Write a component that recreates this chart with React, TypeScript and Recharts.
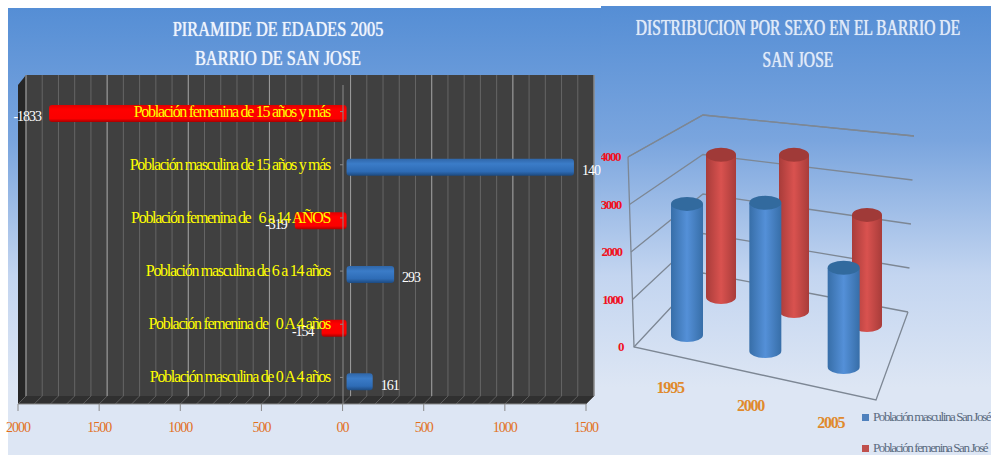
import React from 'react';
import {
  BarChart,
  Bar,
  XAxis,
  YAxis,
  CartesianGrid,
  LabelList,
  Cell,
  Legend
} from 'recharts';

// piramide de edades 2005
const ageGroups = [
  'Población femenina de 15 años y más',
  'Población masculina de 15 años y más',
  'Población femenina de   6 a 14 AÑOS',
  'Población masculina de 6 a 14 años',
  'Población femenina de   0 A 4 años',
  'Población masculina de 0 A 4 años'
];
const ageValues = [-1833, 1401, -319, 293, -154, 161];
const axisTicks = [-2000, -1500, -1000, -500, 0, 500, 1000, 1500];
const minorTicks = [
  -2000, -1900, -1800, -1700, -1600, -1500, -1400, -1300, -1200, -1100, -1000, -900, -800, -700, -600, -500, -400, -300,
  -200, -100, 0, 100, 200, 300, 400, 500, 600, 700, 800, 900, 1000, 1100, 1200, 1300, 1400, 1500
];

// distribucion por sexo
const years = ['1995', '2000', '2005'];
const maleValues = [2450, 2770, 1855];
const femaleValues = [2980, 3270, 2306];
const levelTicks = [0, 1000, 2000, 3000, 4000];

const pyramidData = ageGroups.map((group, i) => ({ group, value: ageValues[i] }));
const sexData = years.map((year, i) => ({ year, male: maleValues[i], female: femaleValues[i] }));

const W = 991;
const H = 455;
const SERIF = '"Liberation Serif", serif';
const layer: React.CSSProperties = { position: 'absolute', left: 0, top: 0 };
const pyramidDomain: [number, number] = [-2000, 1500];
const panelFill = 'linear-gradient(#558ed5 0%, #7aa5de 30%, #c3d5f0 60%, #dde6f4 85%)';

const titleStyle: React.CSSProperties = {
  position: 'absolute',
  fontFamily: SERIF,
  color: '#eef4fc',
  fontSize: 21,
  whiteSpace: 'nowrap',
  transform: 'translateX(-50%) scaleX(0.78)',
  textShadow: '0 0 1px #fff'
};

const legendText = (v: string) => (
  <span style={{ color: '#5a6a80', fontFamily: SERIF, fontSize: 13, letterSpacing: -1.4, whiteSpace: 'nowrap' }}>{v}</span>
);

const FloorTick = (props: any) => (
  <line x1={props.x} y1={props.y} x2={props.x - 8} y2={props.y + 8} stroke="#5c5c5c" />
);

const GroupTick = (props: any) => (
  <text
    x={props.x}
    y={props.y + 5}
    textAnchor="end"
    fill="#ffff00"
    fontFamily={SERIF}
    fontSize={16}
    letterSpacing={-1.3}
    style={{ whiteSpace: 'pre' }}
  >
    {props.payload.value}
  </text>
);

// rejilla 3D: cada nivel del eje sale por la pared izquierda y sigue por el fondo
const LevelTick = (props: any) => {
  const t = props.payload.value / 4000;
  const y = props.y;
  const leftX = 634 - 6 * t;
  const backY = 273 - 158 * t;
  const rightX = 908 + 6 * t;
  const rightY = 312 - 176 * t;
  return (
    <g>
      <polyline
        points={`${leftX},${y} 703,${backY} ${rightX},${rightY}`}
        fill="none"
        stroke="#7d8794"
        strokeWidth={1.3}
      />
      <text
        x={623 - 3 * t}
        y={y + 4}
        textAnchor="end"
        fill="#f01020"
        fontFamily={SERIF}
        fontWeight="bold"
        fontSize={13}
        letterSpacing={-1.5}
      >
        {props.payload.value}
      </text>
    </g>
  );
};

const YearTick = (props: any) => (
  <text
    x={props.x - 17 + props.index * 2}
    y={393 + props.index * 17.5}
    textAnchor="middle"
    fill="#e08a2c"
    fontFamily={SERIF}
    fontWeight="bold"
    fontSize={16}
    letterSpacing={-1.2}
  >
    {props.payload.value}
  </text>
);

const Cylinder = (props: any) => {
  const { x, y, width, height, index, gradient, cap, rise } = props;
  const top = y + index * rise;
  const bottom = top + height;
  const rx = width / 2;
  const ry = 7;
  return (
    <g>
      <path
        d={`M${x},${top} L${x},${bottom} A${rx},${ry} 0 0 0 ${x + width},${bottom} L${x + width},${top} Z`}
        fill={`url(#${gradient})`}
      />
      <ellipse cx={x + rx} cy={top} rx={rx} ry={ry} fill={cap} />
    </g>
  );
};

export default function App() {
  return (
    <div style={{ position: 'fixed', left: 0, top: 0, width: W, height: H, background: '#fff', overflow: 'hidden' }}>
      {/* panel izquierdo */}
      <div style={{ position: 'absolute', left: 8, top: 8, width: 593, height: 447, background: panelFill }} />
      <div style={{ ...titleStyle, left: 278, top: 17 }}>PIRAMIDE DE EDADES 2005</div>
      <div style={{ ...titleStyle, left: 278, top: 46 }}>BARRIO DE SAN JOSE</div>

      <svg width={W} height={H} style={layer}>
        <polygon points="18,85 26,75 26,396 18,404" fill="#262626" />
        <polygon points="18,404 26,396 594,396 586,404" fill="#303030" />
      </svg>

      {/* pared del fondo */}
      <div style={layer}>
        <BarChart width={W} height={H} data={pyramidData} layout="vertical" margin={{ top: 75, right: 397, bottom: 0, left: 26 }}>
          <XAxis
            type="number"
            domain={pyramidDomain}
            ticks={minorTicks}
            interval={0}
            height={59}
            axisLine={false}
            tickLine={false}
            tickSize={0}
            tickMargin={0}
            tick={<FloorTick />}
          />
          <YAxis type="category" dataKey="group" hide />
          <CartesianGrid fill="#404040" horizontal={false} verticalValues={minorTicks} stroke="#656565" />
          <CartesianGrid horizontal={false} verticalValues={axisTicks} stroke="#9c9c9c" />
          <Bar dataKey="value" fill="none" isAnimationActive={false} />
        </BarChart>
      </div>

      {/* eje de valores */}
      <div style={layer}>
        <BarChart width={W} height={H} data={pyramidData} layout="vertical" margin={{ top: 85, right: 405, bottom: 1, left: 18 }}>
          <XAxis
            type="number"
            domain={pyramidDomain}
            ticks={axisTicks}
            interval={0}
            height={50}
            stroke="#8a8a8a"
            tickSize={7}
            tickMargin={11}
            tickFormatter={(v: number) => (v === 0 ? '00' : String(Math.abs(v)))}
            tick={{ fill: '#e2701c', fontSize: 14, fontFamily: SERIF, letterSpacing: -1 }}
          />
          <YAxis type="category" dataKey="group" hide />
          <Bar dataKey="value" fill="none" isAnimationActive={false} />
        </BarChart>
      </div>

      {/* barras */}
      <div style={layer}>
        <BarChart width={W} height={H} data={pyramidData} layout="vertical" margin={{ top: 87, right: 401, bottom: 46, left: 22 }}>
          <defs>
            <linearGradient id="barBlue" x1="0" y1="0" x2="0" y2="1">
              <stop offset="0%" stopColor="#2f66a8" />
              <stop offset="30%" stopColor="#3b7cc8" />
              <stop offset="75%" stopColor="#2e6cb6" />
              <stop offset="100%" stopColor="#1d4a80" />
            </linearGradient>
            <linearGradient id="barRed" x1="0" y1="0" x2="0" y2="1">
              <stop offset="0%" stopColor="#e00000" />
              <stop offset="25%" stopColor="#ff0000" />
              <stop offset="80%" stopColor="#fb0000" />
              <stop offset="100%" stopColor="#a80000" />
            </linearGradient>
          </defs>
          <XAxis type="number" domain={pyramidDomain} hide />
          <YAxis type="category" dataKey="group" hide />
          <Bar dataKey="value" barSize={17} radius={3} isAnimationActive={false}>
            {pyramidData.map((d) => (
              <Cell key={d.group} fill={d.value < 0 ? 'url(#barRed)' : 'url(#barBlue)'} />
            ))}
            <LabelList
              dataKey="value"
              position="right"
              offset={8}
              dy={3}
              fill="#ffffff"
              fontFamily={SERIF}
              fontSize={14}
              letterSpacing={-1}
            />
          </Bar>
        </BarChart>
      </div>

      {/* eje de categorias, las etiquetas quedan sobre las barras */}
      <div style={layer}>
        <BarChart width={W} height={H} data={pyramidData} layout="vertical" margin={{ top: 85, right: 405, bottom: 51, left: 342 }}>
          <XAxis type="number" domain={pyramidDomain} hide />
          <YAxis
            type="category"
            dataKey="group"
            width={1}
            interval={0}
            stroke="#8a8a8a"
            tickSize={3}
            tickMargin={10}
            tick={<GroupTick />}
          />
          <Bar dataKey="value" fill="none" isAnimationActive={false} />
        </BarChart>
      </div>

      {/* panel derecho */}
      <div style={{ position: 'absolute', left: 601, top: 6, width: 390, height: 449, background: panelFill }} />
      <div style={{ ...titleStyle, left: 798, top: 15, fontSize: 23, transform: 'translateX(-50%) scaleX(0.68)', opacity: 0.9 }}>
        DISTRIBUCION POR SEXO EN EL BARRIO DE
      </div>
      <div style={{ ...titleStyle, left: 798, top: 47, fontSize: 23, transform: 'translateX(-50%) scaleX(0.68)', opacity: 0.9 }}>
        SAN JOSE
      </div>

      <div style={{ position: 'absolute', left: 601, top: 0, width: 390, height: H, overflow: 'hidden' }}>
        <div style={{ position: 'absolute', left: -601, top: 0, width: W, height: H }}>
          <svg width={W} height={H} style={layer}>
            <polyline points="628,157 703,115 914,136" fill="none" stroke="#7d8794" strokeWidth={1.3} />
            <polyline points="628,157 634,347 876,400 908,312" fill="none" stroke="#7d8794" strokeWidth={1.3} />
          </svg>

          {/* rejilla */}
          <div style={layer}>
            <BarChart width={W} height={H} data={sexData} margin={{ top: 157, right: 77, bottom: 108, left: 628 }}>
              <XAxis dataKey="year" hide />
              <YAxis
                domain={[0, 4000]}
                ticks={levelTicks}
                interval={0}
                width={1}
                axisLine={false}
                tickLine={false}
                tick={<LevelTick />}
              />
              <Bar dataKey="male" fill="none" isAnimationActive={false} />
            </BarChart>
          </div>

          {/* fila de atras */}
          <div style={layer}>
            <BarChart width={W} height={H} data={sexData} margin={{ top: 106, right: 88, bottom: 158, left: 684 }}>
              <defs>
                <linearGradient id="cylRed" x1="0" y1="0" x2="1" y2="0">
                  <stop offset="0%" stopColor="#a83c3a" />
                  <stop offset="50%" stopColor="#d9524f" />
                  <stop offset="100%" stopColor="#a83c3a" />
                </linearGradient>
              </defs>
              <XAxis dataKey="year" hide />
              <YAxis domain={[0, 4000]} hide />
              <Bar
                dataKey="female"
                name="Población femenina San José"
                fill="#c0504d"
                barSize={30}
                isAnimationActive={false}
                shape={(p: any) => <Cylinder {...p} gradient="cylRed" cap="#a03a38" rise={14} />}
              />
              <Legend
                layout="horizontal"
                align="center"
                verticalAlign="middle"
                iconType="square"
                iconSize={7}
                wrapperStyle={{ left: 862, top: 438, width: 127, whiteSpace: 'nowrap' }}
                formatter={legendText}
              />
            </BarChart>
          </div>

          {/* fila de delante */}
          <div style={layer}>
            <BarChart width={W} height={H} data={sexData} margin={{ top: 121, right: 108, bottom: 40, left: 648 }}>
              <defs>
                <linearGradient id="cylBlue" x1="0" y1="0" x2="1" y2="0">
                  <stop offset="0%" stopColor="#376ea8" />
                  <stop offset="50%" stopColor="#5490d8" />
                  <stop offset="100%" stopColor="#376ea8" />
                </linearGradient>
              </defs>
              <XAxis dataKey="year" height={80} axisLine={false} tickLine={false} interval={0} tick={<YearTick />} />
              <YAxis domain={[0, 4000]} hide />
              <Bar
                dataKey="male"
                name="Población masculina  San José"
                fill="#4f81bd"
                barSize={32}
                isAnimationActive={false}
                shape={(p: any) => <Cylinder {...p} gradient="cylBlue" cap="#326a9e" rise={16} />}
              />
              <Legend
                layout="horizontal"
                align="center"
                verticalAlign="middle"
                iconType="square"
                iconSize={7}
                wrapperStyle={{ left: 862, top: 407, width: 127, whiteSpace: 'nowrap' }}
                formatter={legendText}
              />
            </BarChart>
          </div>
        </div>
      </div>
    </div>
  );
}
